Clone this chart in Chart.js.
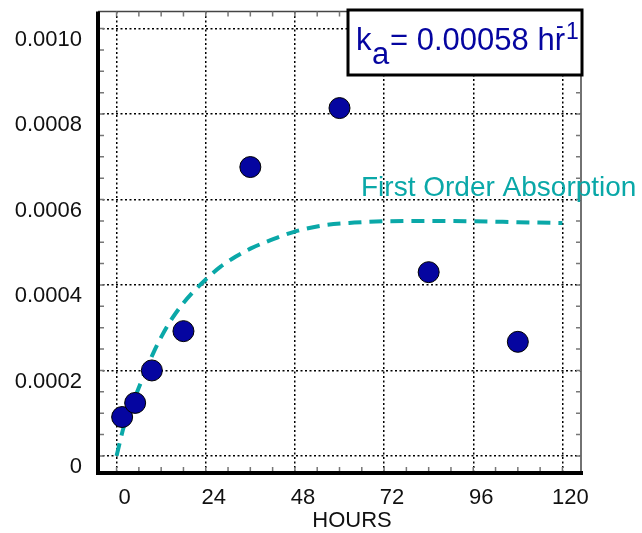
<!DOCTYPE html>
<html>
<head>
<meta charset="utf-8">
<script src="https://cdn.jsdelivr.net/npm/chart.js@4.4.0/dist/chart.umd.min.js"></script>
<style>
  body { margin: 0; background: #fff; }
  canvas { display: block; }
</style>
</head>
<body>
<canvas id="myChart" width="642" height="533"></canvas>
<script>
// measured samples
const sampleHours = [1.5, 5, 9.5, 18, 36, 60, 84, 108];
const sampleConc = [0.000091, 0.000124, 0.0002, 0.000292, 0.000676, 0.000814, 0.00043, 0.000267];

// first order absorption curve
const fitHours = [0, 2, 4, 6, 8, 10, 12, 14, 16, 18, 20, 24, 28, 32, 36, 40, 48, 56, 64, 72, 84, 96, 108, 120];
const fitConc = [0, 0.00007, 0.000116, 0.00016, 0.000203, 0.000243, 0.000278, 0.000309, 0.000335, 0.000358, 0.000378,
  0.000413, 0.000443, 0.000466, 0.000485, 0.0005, 0.000525, 0.00054, 0.000546, 0.000549, 0.00055, 0.000549, 0.000547, 0.000545];

const xTicks = [0, 24, 48, 72, 96, 120];
const xTickLabels = ['0', '24', '48', '72', '96', '120'];
const yTicks = [0, 0.0002, 0.0004, 0.0006, 0.0008, 0.0010];
const yTickLabels = ['0', '0.0002', '0.0004', '0.0006', '0.0008', '0.0010'];

const FONT = '"Liberation Sans", Arial, sans-serif';
const teal = '#0aa8a8';
const navy = '#0505a0';

const decorations = {
  id: 'decorations',
  afterDraw(chart) {
    const ctx = chart.ctx;
    const area = chart.chartArea;
    const xs = chart.scales.x;
    const ys = chart.scales.y;
    ctx.save();

    // thin top / right frame
    ctx.strokeStyle = '#444';
    ctx.lineWidth = 1.5;
    ctx.beginPath();
    ctx.moveTo(area.left, area.top);
    ctx.lineTo(area.right, area.top);
    ctx.lineTo(area.right, area.bottom + 2);
    ctx.stroke();

    // inward minor ticks on all four sides
    ctx.strokeStyle = '#777';
    ctx.lineWidth = 1.5;
    ctx.beginPath();
    for (let v = 0; v <= 120; v += 6) {
      const px = xs.getPixelForValue(v);
      ctx.moveTo(px, area.bottom); ctx.lineTo(px, area.bottom - 6);
      ctx.moveTo(px, area.top); ctx.lineTo(px, area.top + 5);
    }
    for (let i = 0; i <= 20; i++) {
      const py = ys.getPixelForValue(i * 0.00005);
      ctx.moveTo(area.left, py); ctx.lineTo(area.left + 6, py);
      ctx.moveTo(area.right, py); ctx.lineTo(area.right - 5, py);
    }
    ctx.stroke();

    // heavy left and bottom axes
    ctx.strokeStyle = '#000';
    ctx.lineWidth = 4;
    ctx.beginPath();
    ctx.moveTo(area.left, area.top);
    ctx.lineTo(area.left, area.bottom);
    ctx.lineTo(area.right + 2, area.bottom);
    ctx.stroke();

    // rate constant box
    ctx.fillStyle = '#fff';
    ctx.fillRect(348, 10, 234, 65);
    ctx.strokeStyle = '#000';
    ctx.lineWidth = 3;
    ctx.strokeRect(348, 10, 234, 65);

    ctx.fillStyle = navy;
    ctx.textBaseline = 'alphabetic';
    ctx.textAlign = 'left';
    ctx.font = '31px ' + FONT;
    ctx.fillText('k', 356, 50);
    ctx.fillText('a', 372, 64);
    ctx.fillText('= 0.00058 hr', 390, 50);
    ctx.font = '23px ' + FONT;
    ctx.fillText('-', 556, 33);
    ctx.fillText('1', 566, 39);

    // curve label
    ctx.fillStyle = teal;
    ctx.font = '28px ' + FONT;
    ctx.fillText('First Order Absorption', 361, 196);

    // axis title
    ctx.fillStyle = '#111';
    ctx.font = '22px ' + FONT;
    ctx.textAlign = 'center';
    ctx.fillText('HOURS', 352, 527);

    ctx.restore();
  }
};

const ctx = document.getElementById('myChart').getContext('2d');
const myChart = new Chart(ctx, {
  data: {
    datasets: [
      {
        type: 'scatter',
        label: 'Observed',
        data: sampleHours.map((h, i) => ({ x: h, y: sampleConc[i] })),
        pointRadius: 10.5,
        pointBackgroundColor: navy,
        pointBorderColor: '#000',
        pointBorderWidth: 1,
        order: 0
      },
      {
        type: 'line',
        label: 'First Order Absorption',
        data: fitHours.map((h, i) => ({ x: h, y: fitConc[i] })),
        borderColor: teal,
        borderWidth: 4,
        borderDash: [13, 8],
        pointRadius: 0,
        fill: false,
        cubicInterpolationMode: 'monotone',
        order: 1
      }
    ]
  },
  options: {
    responsive: false,
    animation: false,
    layout: { padding: { top: 10, right: 61, left: 0, bottom: 0 } },
    plugins: {
      legend: { display: false },
      tooltip: { enabled: false }
    },
    scales: {
      x: {
        type: 'linear',
        min: -5,
        max: 125,
        afterBuildTicks: s => { s.ticks = xTicks.map(v => ({ value: v })); },
        afterFit: s => { s.height = 60; s.paddingLeft = 0; s.paddingRight = 0; },
        ticks: {
          callback: (v, i) => xTickLabels[i],
          font: { family: FONT, size: 22 },
          color: '#111',
          padding: 12,
          labelOffset: 8,
          maxRotation: 0,
          autoSkip: false
        },
        grid: { color: '#000', lineWidth: 1.5, drawTicks: false },
        border: { display: false, dash: [2, 2.5] }
      },
      y: {
        type: 'linear',
        min: -0.00004,
        max: 0.00104,
        afterBuildTicks: s => { s.ticks = yTicks.map(v => ({ value: v })); },
        afterFit: s => { s.width = 98; s.paddingTop = 0; s.paddingBottom = 0; },
        ticks: {
          callback: (v, i) => yTickLabels[i],
          font: { family: FONT, size: 22 },
          color: '#111',
          padding: 16,
          labelOffset: 11,
          autoSkip: false
        },
        grid: { color: '#000', lineWidth: 1.5, drawTicks: false },
        border: { display: false, dash: [2, 2.5] }
      }
    }
  },
  plugins: [decorations]
});
</script>
</body>
</html>
